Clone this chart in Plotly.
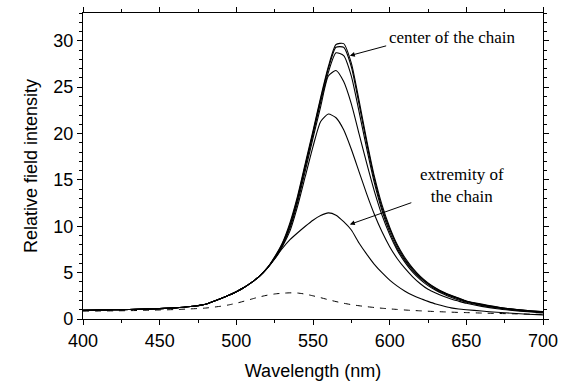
import plotly.graph_objects as go

wavelength = [400, 410, 420, 430, 440, 450, 460, 470, 480, 490, 495,
              500, 505, 510, 515, 520, 525, 530, 535, 540, 545, 550, 555,
              560, 565, 570, 575, 580, 585, 590, 595, 600, 605, 610, 615,
              620, 625, 630, 635, 640, 645, 650, 660, 670, 680, 690, 700]

blue_tail = [0.95, 0.97, 0.99, 1.02, 1.06, 1.12, 1.20, 1.34, 1.60, 2.20, 2.55,
             2.95, 3.40, 3.95, 4.60, 5.45]

chain_a = blue_tail + [6.70, 8.20, 10.4, 13.3, 16.8, 20.3, 23.9, 27.2, 29.6, 29.7, 27.6, 23.6,
                       19.3, 15.4, 12.3, 9.9, 8.0, 6.6, 5.5, 4.6, 3.9, 3.35, 2.9, 2.55,
                       2.25, 1.95, 1.60, 1.30, 1.08, 0.92, 0.80]
chain_b = blue_tail + [6.65, 8.10, 10.2, 13.1, 16.6, 20.1, 23.7, 27.0, 29.3, 29.3, 27.2, 23.2,
                       19.0, 15.1, 12.0, 9.7, 7.85, 6.45, 5.4, 4.52, 3.84, 3.3, 2.86, 2.52,
                       2.22, 1.92, 1.57, 1.28, 1.06, 0.90, 0.78]
chain_c = blue_tail + [6.60, 8.00, 10.0, 12.9, 16.4, 19.9, 23.4, 26.6, 28.7, 28.4, 26.2, 22.4,
                       18.4, 14.7, 11.7, 9.4, 7.6, 6.3, 5.25, 4.4, 3.75, 3.2, 2.8, 2.45,
                       2.15, 1.88, 1.52, 1.25, 1.04, 0.88, 0.76]
chain_d = blue_tail + [6.55, 7.90, 9.8, 12.6, 16.0, 19.5, 22.9, 26.2, 26.8, 25.6, 23.2, 20.0,
                       16.8, 13.8, 11.2, 9.1, 7.4, 6.1, 5.05, 4.25, 3.6, 3.1, 2.7, 2.35,
                       2.05, 1.80, 1.45, 1.18, 0.98, 0.84, 0.72]
chain_e = blue_tail + [6.50, 7.80, 9.5, 12.2, 15.4, 18.6, 21.3, 22.1, 21.7, 20.4, 18.3, 15.9,
                       13.5, 11.3, 9.4, 7.8, 6.5, 5.45, 4.55, 3.8, 3.2, 2.8, 2.45, 2.15,
                       1.92, 1.70, 1.36, 1.10, 0.92, 0.78, 0.66]
chain_f = blue_tail + [6.48, 7.60, 8.55, 9.3, 10.0, 10.65, 11.15, 11.44, 11.2, 10.5, 9.6,
                       8.2, 7.0, 5.9, 5.0, 4.2, 3.55, 3.0, 2.55, 2.2, 1.9, 1.62,
                       1.40, 1.2, 1.08, 1.0, 0.86, 0.72, 0.62, 0.52, 0.45]
single = [0.85, 0.86, 0.88, 0.90, 0.93, 0.97, 1.02, 1.09, 1.18, 1.38, 1.52,
          1.70, 1.92, 2.15, 2.38, 2.56, 2.70, 2.78, 2.82, 2.80, 2.68, 2.50, 2.30,
          2.08, 1.88, 1.70, 1.55, 1.43, 1.33, 1.24, 1.16, 1.09, 1.03, 0.97, 0.92,
          0.88, 0.84, 0.80, 0.77, 0.74, 0.71, 0.69, 0.64, 0.60, 0.56, 0.53, 0.50]

x_ticks = [400, 450, 500, 550, 600, 650, 700]
y_ticks = [0, 5, 10, 15, 20, 25, 30]

fig = go.Figure()
for series in [chain_f, chain_e, chain_d, chain_c, chain_b, chain_a]:
    fig.add_trace(go.Scatter(x=wavelength, y=series, mode="lines",
                             line=dict(color="black", width=1.1, shape="spline", smoothing=0.6),
                             showlegend=False, hoverinfo="skip"))
fig.add_trace(go.Scatter(x=wavelength, y=single, mode="lines",
                         line=dict(color="black", width=1, dash="6px,6px",
                                   shape="spline", smoothing=0.6),
                         showlegend=False, hoverinfo="skip"))

axis_common = dict(showline=True, linecolor="black", linewidth=1.2, mirror="ticks",
                   ticks="outside", ticklen=5, tickwidth=1.2, tickcolor="black",
                   showgrid=False, zeroline=False,
                   tickfont=dict(family="Liberation Sans, Arial", size=18, color="black"))

fig.update_xaxes(range=[400, 700], tickvals=x_ticks,
                 minor=dict(dtick=25, tick0=400, ticklen=3, ticks="outside", tickcolor="black"),
                 title=dict(text="Wavelength (nm)", standoff=14,
                            font=dict(family="Liberation Sans, Arial", size=18, color="black")),
                 **axis_common)
fig.update_yaxes(range=[0, 33], tickvals=y_ticks,
                 minor=dict(dtick=1, tick0=0, ticklen=3, ticks="outside", tickcolor="black"),
                 title=dict(text="Relative field intensity", standoff=10,
                            font=dict(family="Liberation Sans, Arial", size=18, color="black")),
                 **axis_common)

serif = dict(family="Liberation Serif, Times New Roman", size=17, color="black")
fig.add_annotation(x=574, y=28.4, ax=598.7, ay=29.5, axref="x", ayref="y",
                   xref="x", yref="y", text="", showarrow=True,
                   arrowhead=2, arrowsize=1, arrowwidth=1, arrowcolor="black")
fig.add_annotation(x=574, y=10.2, ax=615.1, ay=12.6, axref="x", ayref="y",
                   xref="x", yref="y", text="", showarrow=True,
                   arrowhead=2, arrowsize=1, arrowwidth=1, arrowcolor="black")
fig.add_annotation(x=641, y=30.4, xref="x", yref="y", text="center of the chain",
                   showarrow=False, font=serif)
fig.add_annotation(x=647.2, y=14.35, xref="x", yref="y", text="extremity of<br>the chain",
                   showarrow=False, font=serif)

fig.update_layout(width=567, height=388, margin=dict(l=83, r=24, t=7, b=69),
                  plot_bgcolor="white", paper_bgcolor="white")

fig.write_html("out.html")
